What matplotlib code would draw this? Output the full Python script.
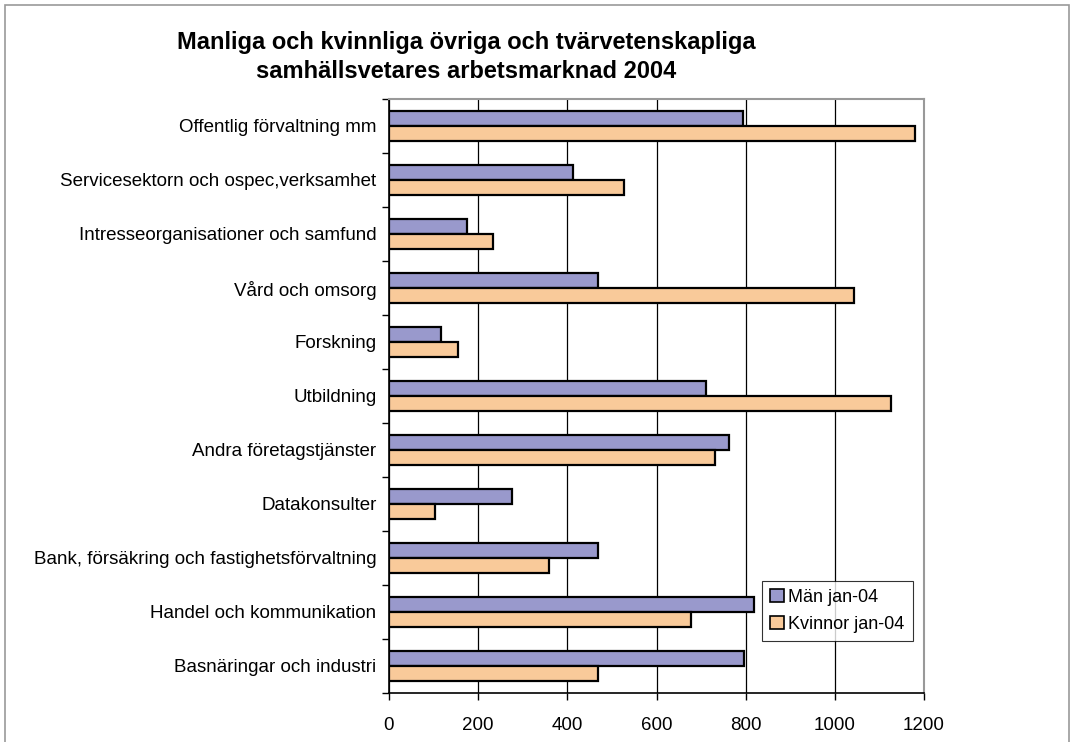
import matplotlib.pyplot as plt
import matplotlib.patches as mpatches
import numpy as np

plt.rcParams['font.family'] = ['Liberation Sans', 'DejaVu Sans']

# data (bottom to top, as drawn)
kategorier = ['Basnäringar och industri', 'Handel och kommunikation',
              'Bank, försäkring och fastighetsförvaltning', 'Datakonsulter',
              'Andra företagstjänster', 'Utbildning', 'Forskning',
              'Vård och omsorg', 'Intresseorganisationer och samfund',
              'Servicesektorn och ospec,verksamhet', 'Offentlig förvaltning mm']
man = [797, 818, 468, 277, 762, 712, 117, 468, 174, 413, 794]
kvinnor = [468, 678, 359, 103, 732, 1125, 154, 1043, 233, 526, 1180]
xticks = [0, 200, 400, 600, 800, 1000, 1200]

fig = plt.figure(figsize=(10.78, 7.42), dpi=100)
ax = fig.add_axes([389/1078, 49/742, 535/1078, 594/742])

y = np.arange(len(kategorier))
h = 0.287
ax.barh(y + h/2, man, height=h, color='#9999cc', edgecolor='black', linewidth=1.6,
        label='Män jan-04', zorder=3)
ax.barh(y - h/2, kvinnor, height=h, color='#f9ca9a', edgecolor='black', linewidth=1.6,
        label='Kvinnor jan-04', zorder=3)

ax.set_xlim(0, 1200)
ax.set_ylim(-0.5, len(kategorier) - 0.5)
ax.set_xticks(xticks)
ax.set_xticklabels([str(v) for v in xticks], fontsize=13.5)
ax.set_yticks(y)
ax.set_yticklabels(kategorier, fontsize=13.5)
ax.tick_params(axis='y', length=0, pad=9)
ax.tick_params(axis='x', length=5, direction='out', width=1, pad=12)
# category boundary ticks on the y axis
ax.set_yticks(np.arange(-0.5, len(kategorier)), minor=True)
ax.tick_params(axis='y', which='minor', length=5, direction='out', width=1)

ax.grid(axis='x', color='black', linewidth=0.9, zorder=0)
for s in ['top', 'right']:
    ax.spines[s].set_color('#999999')
    ax.spines[s].set_linewidth(1.5)
for s in ['left', 'bottom']:
    ax.spines[s].set_color('black')
    ax.spines[s].set_linewidth(1.2)

leg = ax.legend(loc='upper left', bbox_to_anchor=((762-389)/535, (693-581)/594),
                fontsize=13, frameon=True, fancybox=False, edgecolor='black',
                handlelength=0.75, handleheight=0.75, handletextpad=0.25,
                borderpad=0.45, labelspacing=0.55, borderaxespad=0)
leg.get_frame().set_linewidth(0.8)
for p in leg.get_patches():
    p.set_linewidth(1.2)

fig.text(466/1078, 1 - 42/742, 'Manliga och kvinnliga övriga och tvärvetenskapliga',
         ha='center', va='center', fontsize=17, fontweight='bold')
fig.text(466/1078, 1 - 72/742, 'samhällsvetares arbetsmarknad 2004',
         ha='center', va='center', fontsize=17, fontweight='bold')

# outer chart border
fig.patches.append(mpatches.Rectangle((5/1078, -0.05), 1064/1078, 1 - 5/742 + 0.05,
                                      transform=fig.transFigure, fill=False,
                                      edgecolor='#999999', linewidth=1.2))

fig.savefig('out.png', dpi=100)
